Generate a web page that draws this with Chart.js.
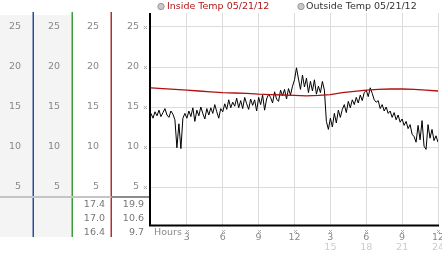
<!DOCTYPE html>
<html>
<head>
<meta charset="utf-8">
<script src="https://cdn.jsdelivr.net/npm/chart.js@4.4.1/dist/chart.umd.min.js"></script>
<style>
  html, body { margin: 0; padding: 0; background: #fff; }
  #wrap { width: 442px; height: 253px; position: relative; }
</style>
</head>
<body>
<div id="wrap"><canvas id="tempChart"></canvas></div>
<script>
const seriesNames = ['Inside Temp 05/21/12', 'Outside Temp 05/21/12'];
const yTicks = [5, 10, 15, 20, 25];
const hourTicks = [3, 6, 9, 12, 15, 18, 21, 24];
const hourLabels = ['3', '6', '9', '12', '3', '6', '9', '12'];
const pmLabels = ['', '', '', '', '15', '18', '21', '24'];

// inside temp, one reading per hour
const insideHours = [0, 1, 2, 3, 4, 5, 6, 7, 8, 9, 10, 11, 12, 13, 14, 15, 16, 17, 18, 19, 20, 21, 22, 23, 24];
const insideTemp = [17.4, 17.3, 17.2, 17.1, 17.0, 16.9, 16.8, 16.75, 16.7, 16.6, 16.55, 16.5, 16.45,
    16.4, 16.45, 16.55, 16.8, 16.95, 17.1, 17.2, 17.25, 17.25, 17.2, 17.1, 17.0];

// outside temp, one reading every 10 minutes
const outsideStep = 1 / 6;
const outsideTemp = [
    14.2, 13.6, 14.4, 13.9, 14.6, 13.8,
    14.3, 14.8, 14.0, 13.7, 14.5, 14.1,
    13.4, 9.9, 12.9, 9.8, 13.6, 14.2,
    13.6, 14.5, 13.8, 14.9, 13.2, 14.6,
    13.9, 15.0, 14.2, 13.5, 14.8, 14.0,
    14.9, 14.2, 15.3, 14.4, 13.6, 14.8,
    14.4, 15.4, 14.7, 15.9, 14.9, 15.6,
    15.1, 16.1, 14.9, 15.8, 14.8, 16.2,
    15.4, 14.7, 16.0, 15.2, 15.9, 14.5,
    16.2, 15.3, 16.5, 14.6, 16.0, 16.6,
    16.2, 15.5, 16.9, 16.0, 15.7, 17.1,
    16.4, 17.2, 16.0, 17.3, 16.5, 17.6,
    18.4, 19.9, 18.5, 17.2, 19.0, 17.5,
    18.6, 16.8, 18.2, 17.0, 18.4, 16.6,
    17.6, 16.8, 18.2, 17.1, 13.2, 12.2,
    13.6, 12.5, 14.2, 13.0, 14.6, 13.7,
    14.7, 15.3, 14.3, 15.7, 14.9, 15.9,
    15.3, 16.2, 15.5, 16.5, 15.8, 16.8,
    17.1, 16.3, 17.4, 16.7, 15.9, 15.6,
    15.8, 14.8, 15.3, 14.5, 15.0, 14.2,
    14.5, 13.7, 14.3, 13.4, 14.0, 13.1,
    13.5, 12.7, 13.2, 12.3, 12.8, 11.6,
    11.3, 10.6, 12.7, 10.9, 13.3, 10.1,
    9.7, 12.8, 11.1, 12.2, 10.8, 11.4,
    10.6
];

const insideStats = ['17.4', '17.0', '16.4'];
const outsideStats = ['19.9', '10.6', '9.7'];

const FONT = 'DejaVu Sans';
const tickFont = { family: FONT, size: 9.5 };

function sideAxis(weight, width) {
    return {
        position: 'left',
        weight: weight,
        min: 0.25,
        max: 26.75,
        grid: { display: false, drawTicks: false },
        border: { display: false },
        afterBuildTicks: s => { s.ticks = yTicks.map(v => ({ value: v })); },
        afterFit: s => { s.width = width; s.paddingTop = 0; s.paddingBottom = 0; },
        ticks: { padding: 12, color: '#888', font: tickFont }
    };
}

function dots(ctx, x, y) {
    // tiny checker mark used as tick
    ctx.fillStyle = '#aaa';
    ctx.fillRect(x - 1, y - 1, 1, 1);
    ctx.fillRect(x + 1, y - 1, 1, 1);
    ctx.fillRect(x, y, 1, 1);
    ctx.fillRect(x - 1, y + 1, 1, 1);
    ctx.fillRect(x + 1, y + 1, 1, 1);
}

const panels = {
    id: 'panels',
    beforeDraw(chart) {
        const ctx = chart.ctx;
        ctx.save();
        ctx.fillStyle = '#f4f4f4';
        ctx.fillRect(0, 15, 72, 222);
        ctx.restore();
    },
    afterDraw(chart) {
        const ctx = chart.ctx;
        const x = chart.scales.x;
        const y = chart.scales.y;
        const area = chart.chartArea;
        ctx.save();

        // column separators
        [[33, '#2b4c9e'], [72, '#3a9e3a'], [111, '#b03030']].forEach(([px, c]) => {
            ctx.fillStyle = c;
            ctx.fillRect(px - 0.5, 12, 1.5, 225);
        });

        // stats divider
        ctx.fillStyle = '#c4c4c4';
        ctx.fillRect(0, 196, 111, 2);
        ctx.fillStyle = '#8c8c8c';
        ctx.fillRect(111, 196, 38, 2);

        // plot axes
        ctx.fillStyle = '#000';
        ctx.fillRect(area.left - 2, area.top, 2, area.bottom - area.top + 1);
        ctx.fillRect(area.left - 2, area.bottom - 0.5, area.right - area.left + 3, 2);

        // y tick marks
        yTicks.forEach(v => dots(ctx, 145, Math.round(y.getPixelForValue(v))));
        // x tick marks
        hourTicks.forEach(h => dots(ctx, Math.round(x.getPixelForValue(h)), 231));

        ctx.font = '9.5px ' + FONT;
        ctx.textBaseline = 'middle';
        ctx.fillStyle = '#888';
        ctx.textAlign = 'left';
        ctx.fillText('Hours', area.left + 3, 233);

        ctx.textAlign = 'center';
        ctx.fillStyle = '#ccc';
        hourTicks.forEach((h, i) => {
            if (pmLabels[i]) ctx.fillText(pmLabels[i], x.getPixelForValue(h), 248);
        });

        // max / current / min
        ctx.textAlign = 'right';
        ctx.fillStyle = '#777';
        insideStats.forEach((t, i) => ctx.fillText(t, 105, 205 + i * 14));
        outsideStats.forEach((t, i) => ctx.fillText(t, 144, 205 + i * 14));

        // legend
        ctx.textAlign = 'left';
        const items = [[161, 167, '#b01818', seriesNames[0]], [301, 306, '#333', seriesNames[1]]];
        items.forEach(([cx, tx, col, label]) => {
            ctx.beginPath();
            ctx.arc(cx, 6.5, 3.2, 0, Math.PI * 2);
            ctx.fillStyle = '#c8c8c8';
            ctx.fill();
            ctx.strokeStyle = '#999';
            ctx.lineWidth = 1;
            ctx.stroke();
            ctx.fillStyle = col;
            ctx.font = '9.5px ' + FONT;
            ctx.fillText(label, tx, 7);
        });
        ctx.restore();
    }
};

const ctxTemp = document.getElementById('tempChart').getContext('2d');
new Chart(ctxTemp, {
    type: 'line',
    data: {
        datasets: [{
            label: seriesNames[0],
            data: insideHours.map((h, i) => ({ x: h, y: insideTemp[i] })),
            borderColor: '#b01010',
            borderWidth: 1.3,
            pointRadius: 0,
            tension: 0,
            yAxisID: 'y'
        }, {
            label: seriesNames[1],
            data: outsideTemp.map((v, i) => ({ x: i * outsideStep, y: v })),
            borderColor: '#000',
            borderWidth: 1,
            pointRadius: 0,
            tension: 0,
            yAxisID: 'y'
        }]
    },
    options: {
        responsive: true,
        maintainAspectRatio: false,
        animation: false,
        events: [],
        layout: { padding: { top: 13, right: 4, left: 0, bottom: 0 } },
        plugins: { legend: { display: false }, tooltip: { enabled: false } },
        scales: {
            x: {
                type: 'linear',
                min: 0,
                max: 24,
                grid: { color: '#dcdcdc', drawTicks: false },
                border: { display: false },
                afterBuildTicks: s => { s.ticks = hourTicks.map(v => ({ value: v })); },
                afterFit: s => { s.height = 28; s.paddingLeft = 0; s.paddingRight = 0; },
                ticks: {
                    padding: 7,
                    color: '#888',
                    font: tickFont,
                    maxRotation: 0,
                    autoSkip: false,
                    callback: v => hourLabels[hourTicks.indexOf(v)]
                }
            },
            yA: sideAxis(3, 33),
            yB: sideAxis(2, 39),
            yC: sideAxis(1, 39),
            y: Object.assign(sideAxis(0, 40), {
                grid: { color: '#dcdcdc', drawTicks: false }
            })
        }
    },
    plugins: [panels]
});
</script>
</body>
</html>
